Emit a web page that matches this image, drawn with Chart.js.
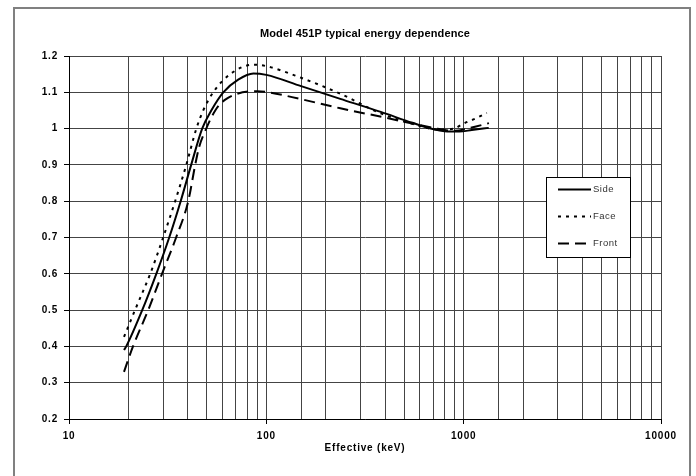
<!DOCTYPE html>
<html>
<head>
<meta charset="utf-8">
<script src="https://cdn.jsdelivr.net/npm/chart.js@4/dist/chart.umd.min.js"></script>
<style>
  html, body { margin: 0; padding: 0; background: #fff; }
  #wrap { width: 696px; height: 476px; }
</style>
</head>
<body>
<div id="wrap"><canvas id="myChart" width="696" height="476"></canvas></div>
<script>
// energy (keV) and relative response
var sideX = [19, 19.5, 23.5, 27.7, 32.2, 36.8, 41.6, 47.3, 52.6, 60.5, 72, 86, 100, 150, 237, 380, 550, 706, 800, 950, 1100, 1340];
var sideY = [0.39, 0.40, 0.50, 0.60, 0.70, 0.80, 0.90, 1.00, 1.05, 1.10, 1.135, 1.152, 1.148, 1.117, 1.082, 1.046, 1.016, 0.998, 0.993, 0.992, 0.996, 1.002];

var faceX = [19, 21.6, 25.8, 30, 34.5, 39.3, 44.2, 47.9, 53.8, 65.6, 86, 100, 150, 237, 380, 550, 750, 891, 1000, 1150, 1310];
var faceY = [0.426, 0.50, 0.60, 0.70, 0.80, 0.90, 1.00, 1.05, 1.10, 1.15, 1.176, 1.172, 1.14, 1.096, 1.042, 1.013, 0.997, 1.0, 1.014, 1.028, 1.043];

var frontX = [19.0, 21.1, 25.2, 29.6, 34.9, 40.2, 43.6, 45.7, 49.6, 55.1, 61.9, 90, 100, 150, 237, 394, 550, 700, 900, 1100, 1343];
var frontY = [0.33, 0.40, 0.50, 0.60, 0.70, 0.80, 0.90, 0.95, 1.00, 1.05, 1.08, 1.103, 1.101, 1.081, 1.056, 1.031, 1.014, 1.002, 0.994, 1.003, 1.015];

var xTickLabels = [10, 100, 1000, 10000];
var yTickLabels = ['0.2', '0.3', '0.4', '0.5', '0.6', '0.7', '0.8', '0.9', '1', '1.1', '1.2'];
var chartTitle = 'Model 451P typical energy dependence';

var fontFamily = '"Liberation Sans", Arial, sans-serif';

function toPoints(xs, ys) {
    return xs.map(function(x, i) { return { x: x, y: ys[i] }; });
}

var frame = {
    id: 'frame',
    beforeDraw: function(chart) {
        var c = chart.ctx;
        c.save();
        c.fillStyle = '#fff';
        c.fillRect(0, 0, chart.width, chart.height);
        c.strokeStyle = '#808080';
        c.lineWidth = 2;
        c.strokeRect(14, 8, 676, 480);
        c.restore();
        // spaced-out lettering like the original
        c.letterSpacing = '0.8px';
    },
    afterDraw: function(chart) {
        var c = chart.ctx;
        var a = chart.chartArea;
        c.save();
        c.letterSpacing = '0.15px';
        c.font = 'bold 11px ' + fontFamily;
        c.fillStyle = '#000';
        c.textAlign = 'center';
        c.textBaseline = 'middle';
        c.fillText(chartTitle, (a.left + a.right) / 2, 34);
        c.restore();
    }
};

// legend box sitting inside the plot, like the original
var boxLegend = {
    id: 'boxLegend',
    afterDraw: function(chart) {
        var c = chart.ctx;
        c.save();
        c.letterSpacing = '0.5px';
        c.fillStyle = '#fff';
        c.fillRect(546, 177, 84, 80);
        c.strokeStyle = '#000';
        c.lineWidth = 1;
        c.strokeRect(546.5, 177.5, 84, 80);
        var rows = [189, 216, 243];
        c.font = '9.5px ' + fontFamily;
        c.textBaseline = 'middle';
        chart.data.datasets.forEach(function(ds, i) {
            c.strokeStyle = ds.borderColor;
            c.lineWidth = 2;
            c.setLineDash(ds.borderDash || []);
            c.beginPath();
            c.moveTo(558, rows[i] + 0.5);
            c.lineTo(591, rows[i] + 0.5);
            c.stroke();
            c.setLineDash([]);
            c.fillStyle = '#333';
            c.fillText(ds.label, 593, rows[i]);
        });
        c.restore();
    }
};

var ctx = document.getElementById('myChart').getContext('2d');
var myChart = new Chart(ctx, {
    type: 'scatter',
    data: {
        datasets: [{
            label: 'Side',
            data: toPoints(sideX, sideY),
            borderColor: '#000',
            borderWidth: 2,
            showLine: true,
            pointRadius: 0,
            cubicInterpolationMode: 'monotone'
        }, {
            label: 'Face',
            data: toPoints(faceX, faceY),
            borderColor: '#000',
            borderWidth: 2,
            borderDash: [3, 5],
            showLine: true,
            pointRadius: 0,
            cubicInterpolationMode: 'monotone'
        }, {
            label: 'Front',
            data: toPoints(frontX, frontY),
            borderColor: '#000',
            borderWidth: 2,
            borderDash: [11, 6],
            showLine: true,
            pointRadius: 0,
            cubicInterpolationMode: 'monotone'
        }]
    },
    options: {
        responsive: false,
        animation: false,
        layout: {
            padding: { left: 0, right: 35, top: 56, bottom: 17 }
        },
        scales: {
            x: {
                type: 'logarithmic',
                min: 10,
                max: 10000,
                afterFit: function(s) { s.height = 40; },
                border: { color: '#000', width: 1 },
                grid: {
                    color: '#444',
                    lineWidth: 1,
                    tickLength: 5,
                    tickColor: function(c) {
                        return xTickLabels.indexOf(c.tick.value) >= 0 ? '#000' : 'rgba(0,0,0,0)';
                    }
                },
                ticks: {
                    autoSkip: false,
                    maxRotation: 0,
                    padding: 6,
                    color: '#000',
                    font: { family: fontFamily, size: 10, weight: 'bold' },
                    callback: function(v) {
                        return xTickLabels.indexOf(v) >= 0 ? String(v) : '';
                    }
                },
                title: {
                    display: true,
                    text: 'Effective (keV)',
                    color: '#000',
                    padding: { top: 0, bottom: 5 },
                    font: { family: fontFamily, size: 10, weight: 'bold' }
                }
            },
            y: {
                min: 0.2,
                max: 1.2,
                afterFit: function(s) { s.width = 69; },
                border: { color: '#000', width: 1 },
                grid: {
                    color: '#444',
                    lineWidth: 1,
                    tickLength: 5,
                    tickColor: '#000'
                },
                ticks: {
                    stepSize: 0.1,
                    padding: 6,
                    color: '#000',
                    font: { family: fontFamily, size: 10, weight: 'bold' },
                    callback: function(v, i) { return yTickLabels[i]; }
                }
            }
        },
        plugins: {
            legend: { display: false },
            tooltip: { enabled: false },
            title: { display: false }
        }
    },
    plugins: [frame, boxLegend]
});
</script>
</body>
</html>
